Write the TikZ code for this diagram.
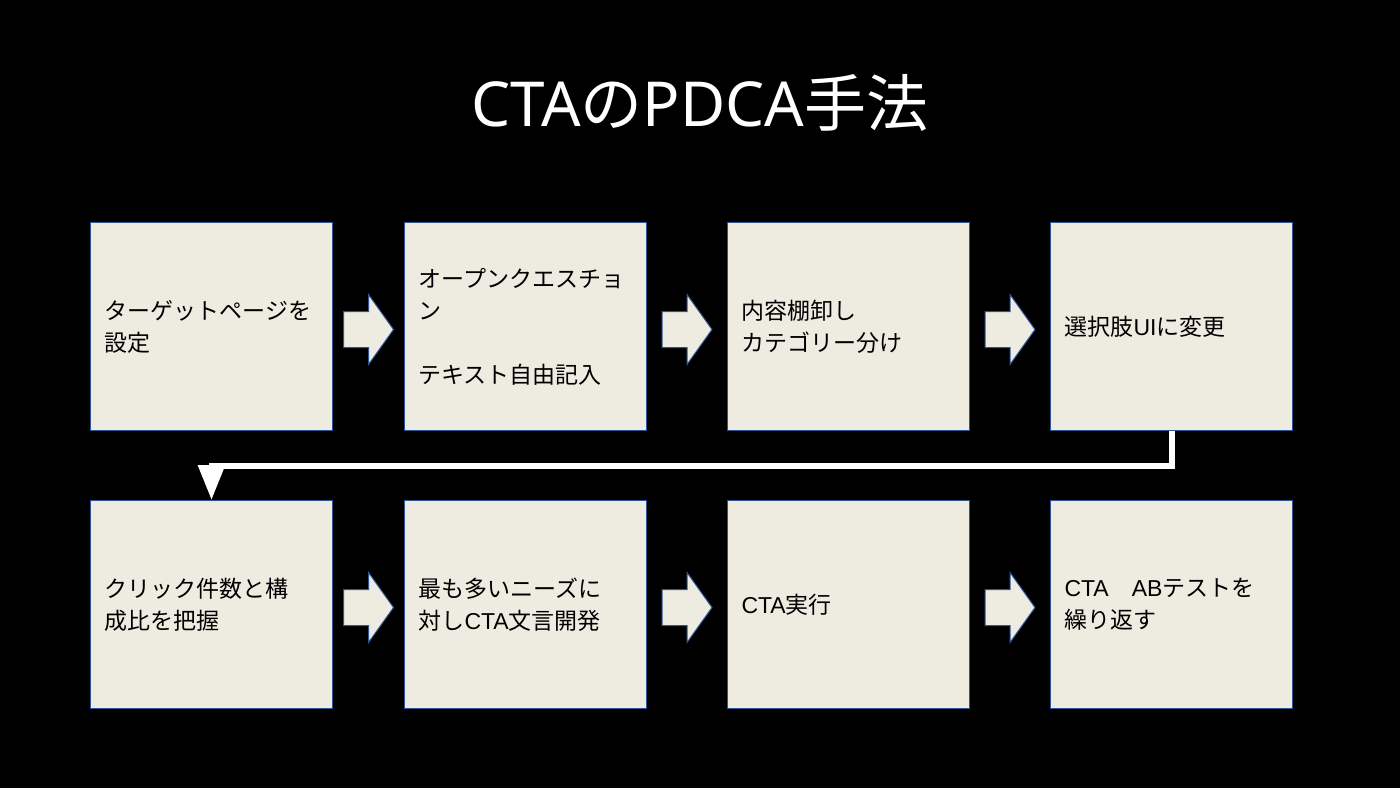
\documentclass[tikz,border=0pt]{standalone}
\usepackage{fontspec}
\setmainfont{Noto Sans CJK JP}
\newfontfamily\jpfont{Noto Sans CJK JP}
\newfontfamily\latfont{Liberation Sans}
\newfontfamily\titlelat{Noto Sans}
\newcommand{\lat}[1]{{\latfont #1}}
\newcommand{\tl}[1]{{\titlelat #1}}
\usetikzlibrary{arrows.meta}
\definecolor{boxfill}{HTML}{EEECE1}
\definecolor{boxline}{HTML}{2F5597}
\tikzset{
  stepbox/.style={draw=boxline, line width=1pt, fill=boxfill,
    minimum width=242pt, minimum height=208pt, inner xsep=14pt, inner ysep=0pt,
    text width=214pt, align=left, anchor=north west,
    font=\jpfont\fontsize{23}{32}\selectfont, text=black},
  blockarrow/.style={draw=boxline, line width=1pt, fill=boxfill, line join=miter},
  flowline/.style={draw=white, line width=6pt, line join=miter,
    -{Triangle[length=35pt, width=26pt]}}
}
\newcommand{\barrow}[1]{%
  \draw[blockarrow, shift={(#1)}] (-25,-18) -- (0,-18) -- (0,-35) -- (25,0)
    -- (0,35) -- (0,18) -- (-25,18) -- cycle;}
\begin{document}
\begin{tikzpicture}[x=1pt, y=-1pt]
\fill[black] (0,0) rectangle (1400,788);
\useasboundingbox (0,0) rectangle (1400,788);

\node[text=white, font=\jpfont\fontsize{62}{70}\selectfont] (title) at (700,103) {\tl{CTA}の\tl{PDCA}手法};

\node[stepbox] (b1) at (90,222) {ターゲットページを\\設定};
\node[stepbox] (b2) at (404,222) {オープンクエスチョ\\ン\\\mbox{}\\テキスト自由記入};
\node[stepbox] (b3) at (727,222) {内容棚卸し\\カテゴリー分け};
\node[stepbox] (b4) at (1050,222) {選択肢\lat{UI}に変更};
\node[stepbox] (b5) at (90,500) {クリック件数と構\\成比を把握};
\node[stepbox] (b6) at (404,500) {最も多いニーズに\\対し\lat{CTA}文言開発};
\node[stepbox] (b7) at (727,500) {\lat{CTA}実行};
\node[stepbox] (b8) at (1050,500) {\lat{CTA}　\lat{AB}テストを\\繰り返す};

\path (b1.east) -- (b2.west) coordinate[midway, yshift=-3pt] (a1);
\path (b2.east) -- (b3.west) coordinate[midway, yshift=-3pt] (a2);
\path (b3.east) -- (b4.west) coordinate[midway, yshift=-3pt] (a3);
\path (b5.east) -- (b6.west) coordinate[midway, yshift=-3pt] (a4);
\path (b6.east) -- (b7.west) coordinate[midway, yshift=-3pt] (a5);
\path (b7.east) -- (b8.west) coordinate[midway, yshift=-3pt] (a6);
\barrow{a1}\barrow{a2}\barrow{a3}\barrow{a4}\barrow{a5}\barrow{a6}

\draw[flowline] (b4.south) -- ++(0,35) -| (b5.north);
\end{tikzpicture}
\end{document}
